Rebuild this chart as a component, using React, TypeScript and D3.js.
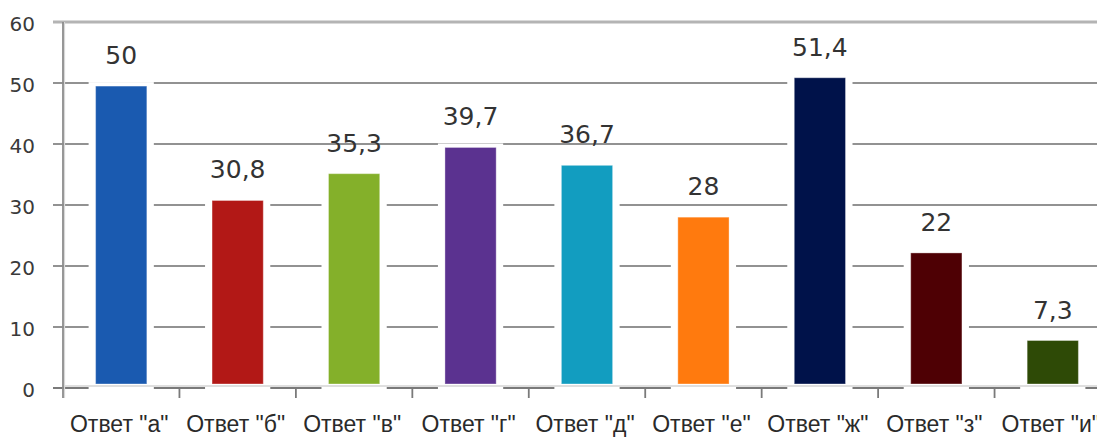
import React from "react";
import * as d3 from "d3";

const categories = ['Ответ "а"', 'Ответ "б"', 'Ответ "в"', 'Ответ "г"', 'Ответ "д"', 'Ответ "е"', 'Ответ "ж"', 'Ответ "з"', 'Ответ "и"'];
const values = [50, 30.8, 35.3, 39.7, 36.7, 28, 51.4, 22, 7.3];
const valueLabels = ["50", "30,8", "35,3", "39,7", "36,7", "28", "51,4", "22", "7,3"];
const colors = ["#1a5ab0", "#b21816", "#84b02a", "#5b3290", "#129dc0", "#ff7a0e", "#00124a", "#4e0004", "#2e4a06"];
const yTicks = [0, 10, 20, 30, 40, 50, 60];

const W = 1097;
const H = 439;

export default function App() {
  const x = d3.scaleBand<string>().domain(categories).range([63, 1111]).paddingInner(0.56).paddingOuter(0.28);
  const y = d3.scaleLinear().domain([0, 60]).range([388, 22]);
  const yBar = d3.scaleLinear().domain([0, 60]).range([384, 26.5]);
  const step = x.step();
  const bw = x.bandwidth();
  const numFont = "'DejaVu Sans', sans-serif";

  return (
    <svg width={W} height={H} style={{ position: "absolute", left: 0, top: 0, background: "#fff" }}>
      {yTicks.filter((t) => t > 0 && t < 60).map((t) => (
        <line key={t} x1={53} x2={1111} y1={y(t)} y2={y(t)} stroke="#6e6e6e" strokeWidth={1.5} />
      ))}
      <line x1={53} x2={1111} y1={y(60)} y2={y(60)} stroke="#b4b4b4" strokeWidth={3} />
      <line x1={53} x2={1111} y1={388} y2={388} stroke="#7a7a7a" strokeWidth={1.8} />
      {values.map((v, i) => (
        <rect key={"h" + i} x={(x(categories[i]) as number) - 7} y={yBar(v) - 4} width={bw + 14} height={392 - yBar(v) + 4} fill="#fff" />
      ))}
      <line x1={63} x2={1111} y1={386} y2={386} stroke="#d4d4d4" strokeWidth={1.5} />
      {categories.map((c, i) => (
        <line key={"t" + i} x1={63 + (i + 1) * step} x2={63 + (i + 1) * step} y1={388} y2={398} stroke="#7a7a7a" strokeWidth={1.8} />
      ))}
      <line x1={64.5} x2={64.5} y1={22} y2={398} stroke="#d8d8d8" strokeWidth={1.2} />
      <line x1={63} x2={63} y1={22} y2={398} stroke="#8c8c8c" strokeWidth={1.8} />
      {values.map((v, i) => (
        <rect key={"b" + i} x={x(categories[i])} y={yBar(v)} width={bw} height={yBar(0) - yBar(v)} fill={colors[i]} stroke="#ffffff" strokeOpacity={0.35} strokeWidth={1} />
      ))}
      {values.map((v, i) => (
        <text key={"l" + i} x={(x(categories[i]) as number) + bw / 2} y={yBar(v) - 22} textAnchor="middle" fontFamily={numFont} fontSize={25} fill="#333">
          {valueLabels[i]}
        </text>
      ))}
      {yTicks.map((t) => (
        <text key={"y" + t} x={35} y={y(t) + 2} textAnchor="end" dominantBaseline="central" fontFamily={numFont} fontSize={20} fill="#3a3a3a">
          {t}
        </text>
      ))}
      {categories.map((c, i) => (
        <text key={"x" + i} x={(x(c) as number) + bw / 2 - 2} y={432} textAnchor="middle" fontFamily="'Liberation Sans', Arial, sans-serif" fontSize={23} fill="#2a2a2a">
          {c}
        </text>
      ))}
    </svg>
  );
}
